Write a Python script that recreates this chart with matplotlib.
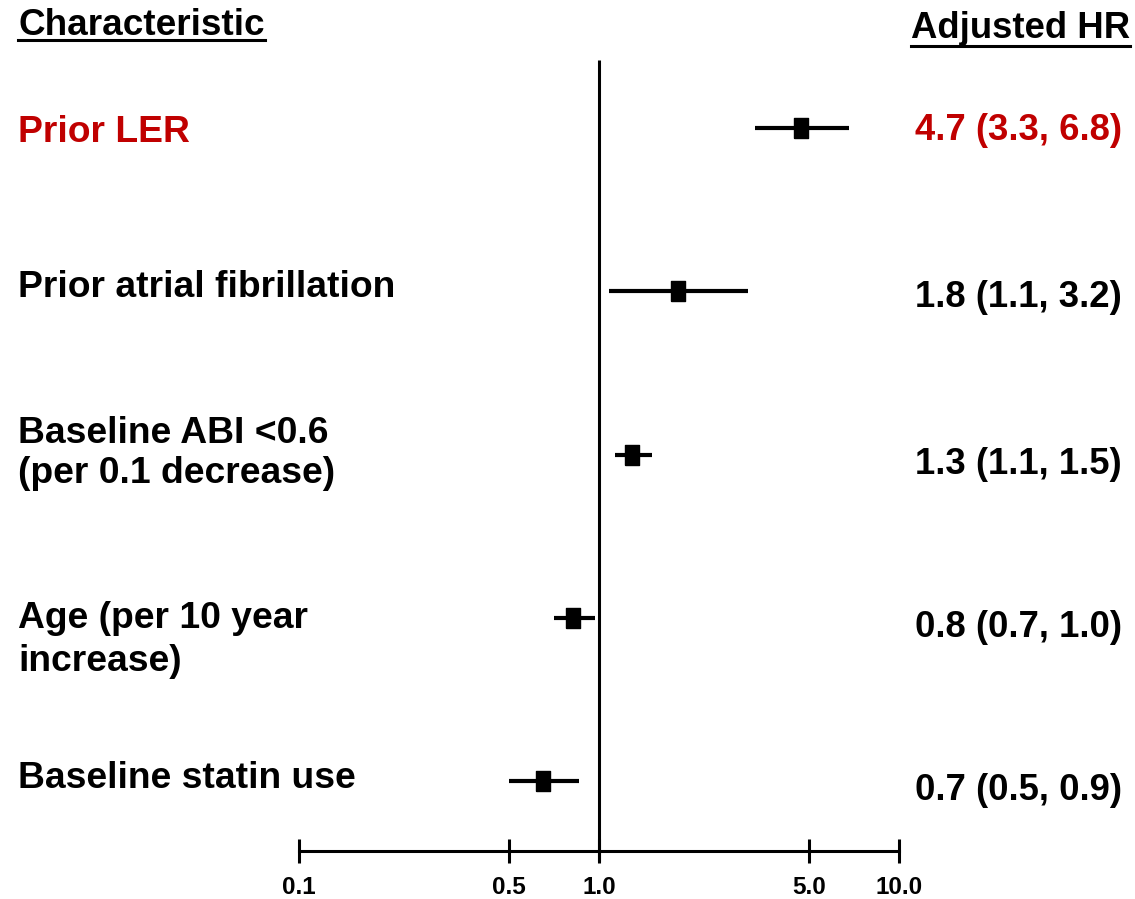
import numpy as np
import matplotlib
matplotlib.use('Agg')
import matplotlib.pyplot as plt
from matplotlib.lines import Line2D
from matplotlib.ticker import NullLocator, FixedLocator, FixedFormatter

plt.rcParams['font.family'] = ['Liberation Sans', 'DejaVu Sans']
plt.rcParams['font.weight'] = 'bold'

# data
characteristics = ['Prior LER', 'Prior atrial fibrillation',
                   'Baseline ABI <0.6\n(per 0.1 decrease)',
                   'Age (per 10 year\nincrease)', 'Baseline statin use']
hr = [4.7, 1.83, 1.29, 0.82, 0.65]
ci_low = [3.3, 1.08, 1.13, 0.71, 0.50]
ci_high = [6.8, 3.14, 1.50, 0.97, 0.86]
hr_labels = ['4.7 (3.3, 6.8)', '1.8 (1.1, 3.2)', '1.3 (1.1, 1.5)',
             '0.8 (0.7, 1.0)', '0.7 (0.5, 0.9)']
highlight = [True, False, False, False, False]
tick_values = [0.1, 0.5, 1.0, 5.0, 10.0]
tick_labels = ['0.1', '0.5', '1.0', '5.0', '10.0']

RED = '#C00000'
FS_LEFT = 26.8
FS_HR = 26.3
W, H = 1135, 899
ROW0, ROW_STEP = 128, 163.25   # pixel y of first row, spacing
PX_DECADE, PX_01 = 300, 299    # log axis: pixels per decade, pixel x of 0.1


def py(p):
    # pixel row -> data y
    return (p - ROW0) / ROW_STEP


fig = plt.figure(figsize=(W / 100, H / 100), dpi=100)
ax = fig.add_axes([0, 0, 1, 1])
ax.set_xscale('log')
ax.set_xlim(10 ** (-1 - PX_01 / PX_DECADE), 10 ** (-1 + (W - PX_01) / PX_DECADE))
ax.set_ylim(py(H), py(0))
ax.patch.set_alpha(0)

rows = np.arange(len(hr))

# reference line at HR = 1
ax.vlines(1.0, py(60), py(861), color='black', lw=2.2, zorder=1)

# CIs and point estimates
ax.hlines(rows, ci_low, ci_high, color='black', lw=3, zorder=2)
rect = [(-2, -3), (2, -3), (2, 3), (-2, 3), (-2, -3)]
ax.plot(hr, rows, ls='none', marker=rect, ms=15, color='black', zorder=3)

# bottom axis
for s in ['top', 'right', 'left']:
    ax.spines[s].set_visible(False)
ax.spines['bottom'].set_position(('data', py(851)))
ax.spines['bottom'].set_bounds(0.1, 10)
ax.spines['bottom'].set_linewidth(2.2)
ax.xaxis.set_major_locator(FixedLocator(tick_values))
ax.xaxis.set_major_formatter(FixedFormatter(tick_labels))
ax.xaxis.set_minor_locator(NullLocator())
ax.tick_params(axis='x', direction='inout', length=17.5, width=2.2,
               labelsize=17.5, pad=9)
ax.set_yticks([])

# text columns
label_dy = [4, -4, -1, 22, -3]
label_ls = [1.2, 1.2, 1.18, 1.28, 1.2]
hr_dy = [2, 6, 10, 10, 9]
for i, name in enumerate(characteristics):
    c = RED if highlight[i] else 'black'
    ax.text(18 / W, py(ROW0 + ROW_STEP * i + label_dy[i]), name,
            transform=ax.get_yaxis_transform(), ha='left', va='center',
            fontsize=FS_LEFT, color=c, linespacing=label_ls[i])
    ax.text(1122 / W, py(ROW0 + ROW_STEP * i + hr_dy[i]), hr_labels[i],
            transform=ax.get_yaxis_transform(), ha='right', va='center',
            fontsize=FS_HR, color=c)

# headers with underline
h1 = ax.text(18 / W, py(35), 'Characteristic', transform=ax.get_yaxis_transform(),
             ha='left', va='baseline', fontsize=26.6)
h2 = ax.text(1130 / W, py(38), 'Adjusted HR', transform=ax.get_yaxis_transform(),
             ha='right', va='baseline', fontsize=FS_HR)
fig.canvas.draw()
r = fig.canvas.get_renderer()
for t, uy in [(h1, 40), (h2, 46)]:
    bb = t.get_window_extent(r)
    fig.add_artist(Line2D([bb.x0 / W, bb.x1 / W], [1 - uy / H, 1 - uy / H],
                          transform=fig.transFigure, color='black', lw=2.2))

fig.savefig('out.png', dpi=100)
